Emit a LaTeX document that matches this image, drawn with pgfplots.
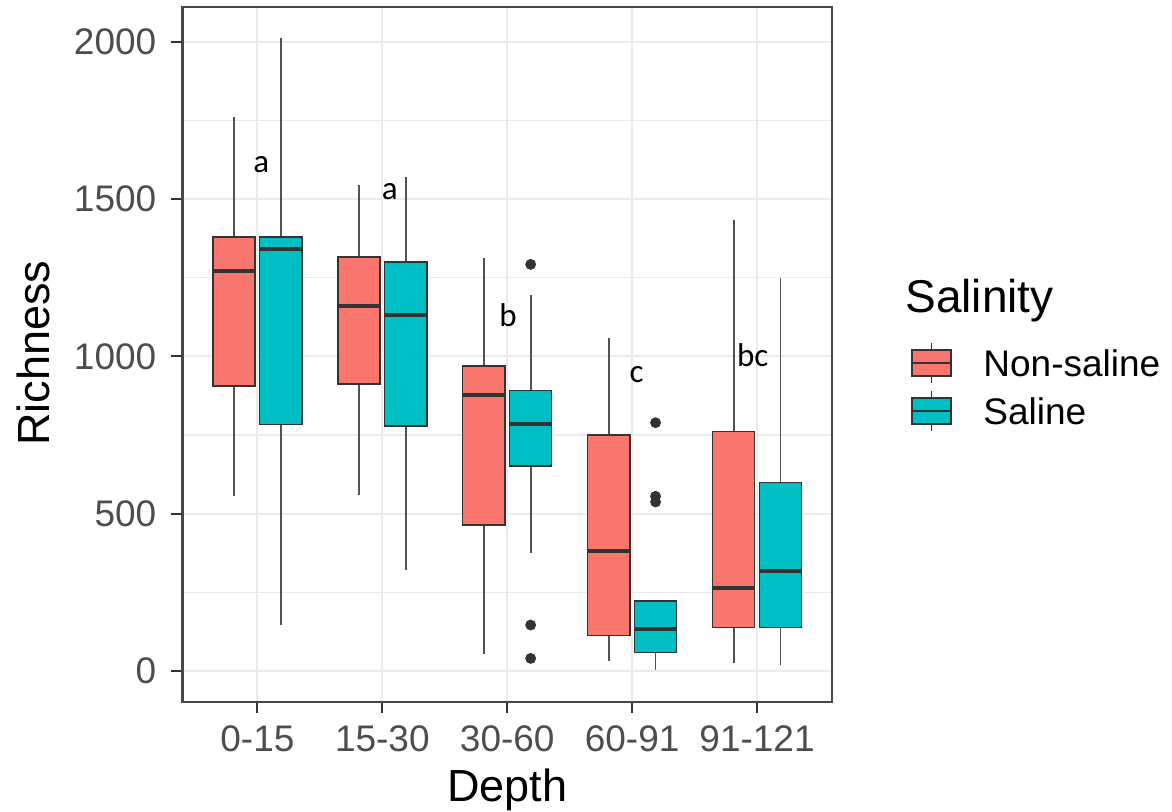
\documentclass[border=0pt]{standalone}
\usepackage{fontspec}
\setmainfont{Liberation Sans}
\newfontfamily\calfont{Carlito}
\usepackage{pgfplots}
\pgfplotsset{compat=1.18}
\definecolor{ns}{HTML}{F8766D}
\definecolor{sa}{HTML}{00BFC4}
\definecolor{g20}{HTML}{333333}
\definecolor{g30}{HTML}{4D4D4D}
\definecolor{g92}{HTML}{EBEBEB}
% #1 left, #2 right, #3 centre, #4 lower whisker, #5 lower quartile, #6 median, #7 upper quartile, #8 upper whisker, #9 fill
\newcommand\bxp[9]{%
  \addplot[g20!85, line width=0.9pt] coordinates {(#3,#4) (#3,#5)};
  \addplot[g20!85, line width=0.9pt] coordinates {(#3,#7) (#3,#8)};
  \addplot[fill=#9, draw=g20, line width=0.7pt] coordinates {(#1,#5) (#2,#5) (#2,#7) (#1,#7)} -- cycle;
  \addplot[g20, line width=2pt] coordinates {(#1,#6) (#2,#6)};
}
\begin{document}
\begin{tikzpicture}
\path[use as bounding box] (0,0) rectangle (586pt,406pt);
\begin{axis}[
  at={(91.25pt,55.15pt)}, anchor=south west,
  scale only axis, width=324.75pt, height=347.2pt,
  xmin=0.4, xmax=5.6, ymin=-97.6, ymax=2109,
  xtick={1,2,3,4,5}, xticklabels={0-15,15-30,30-60,60-91,91-121},
  ytick={0,500,1000,1500,2000}, minor ytick={250,750,1250,1750},
  grid=both,
  major grid style={g92, line width=1pt},
  minor grid style={g92, line width=0.6pt},
  axis line style={g20!90, line width=1.1pt},
  tick align=outside, tick pos=left,
  major tick length=5.5pt, minor tick length=0pt,
  tick style={g20, line width=1pt},
  /pgf/number format/assume math mode=true,
  /pgf/number format/1000 sep={},
  xticklabel style={font=\fontsize{18.5}{18.5}\selectfont, text=g30, inner sep=0pt, anchor=base, yshift=-19.5pt},
  yticklabel style={font=\fontsize{18.5}{18.5}\selectfont, text=g30, inner sep=0pt, anchor=east, xshift=-7.4pt},
  xlabel={Depth}, ylabel={Richness},
  xlabel style={font=\fontsize{22.5}{22.5}\selectfont, inner sep=0pt, at={(axis description cs:0.5,-0.144)}, anchor=base},
  ylabel style={font=\fontsize{22.5}{22.5}\selectfont, inner sep=0pt, at={(axis description cs:-0.2045,0.502)}, anchor=base},
  clip=false,
]
% 0-15
\bxp{0.64375}{0.98125}{0.8125}{555}{906}{1271}{1379}{1761}{ns}
\bxp{1.01875}{1.35625}{1.1875}{146}{783}{1340}{1379}{2011}{sa}
% 15-30
\bxp{1.64375}{1.98125}{1.8125}{559}{912}{1160}{1316}{1545}{ns}
\bxp{2.01875}{2.35625}{2.1875}{321}{779}{1131}{1300}{1569}{sa}
% 30-60
\bxp{2.64375}{2.98125}{2.8125}{53}{464}{876}{969}{1312}{ns}
\bxp{3.01875}{3.35625}{3.1875}{375}{652}{785}{891}{1195}{sa}
% 60-91
\bxp{3.64375}{3.98125}{3.8125}{33}{112}{380}{750}{1059}{ns}
\bxp{4.01875}{4.35625}{4.1875}{4}{59}{133}{223}{223}{sa}
% 91-121
\bxp{4.64375}{4.98125}{4.8125}{24}{138}{263}{761}{1433}{ns}
\bxp{5.01875}{5.35625}{5.1875}{19}{138}{317}{598}{1248}{sa}
% outliers
\addplot[only marks, mark=*, mark size=2.5pt, g20] coordinates {(3.1875,1292) (3.1875,146) (3.1875,40) (4.1875,789) (4.1875,555) (4.1875,537)};
% letters
\node[font=\calfont\fontsize{16.5}{16.5}\selectfont, anchor=base, inner sep=0pt] at (axis cs:1.03,1584) {a};
\node[font=\calfont\fontsize{16.5}{16.5}\selectfont, anchor=base, inner sep=0pt] at (axis cs:2.06,1499) {a};
\node[font=\calfont\fontsize{16.5}{16.5}\selectfont, anchor=base, inner sep=0pt] at (axis cs:3.006,1096) {b};
\node[font=\calfont\fontsize{16.5}{16.5}\selectfont, anchor=base, inner sep=0pt] at (axis cs:4.036,918) {c};
\node[font=\calfont\fontsize{16.5}{16.5}\selectfont, anchor=base, inner sep=0pt] at (axis cs:4.966,967) {bc};
\end{axis}
% legend
\node[anchor=base west, inner sep=0pt, font=\fontsize{23}{23}\selectfont] at (452.5pt,249.5pt) {Salinity};
\draw[g20, line width=0.6pt] (465.75pt,214.5pt) -- (465.75pt,234.5pt);
\filldraw[fill=ns, draw=g20, line width=0.6pt] (456pt,218pt) rectangle (475.5pt,231pt);
\draw[g20, line width=0.8pt] (456pt,224.5pt) -- (475.5pt,224.5pt);
\node[anchor=west, inner sep=0pt, font=\fontsize{18.5}{18.5}\selectfont] at (491.5pt,224.5pt) {Non-saline};
\draw[g20, line width=0.6pt] (465.75pt,190.5pt) -- (465.75pt,210.5pt);
\filldraw[fill=sa, draw=g20, line width=0.6pt] (456pt,194pt) rectangle (475.5pt,207pt);
\draw[g20, line width=0.8pt] (456pt,200.5pt) -- (475.5pt,200.5pt);
\node[anchor=west, inner sep=0pt, font=\fontsize{18.5}{18.5}\selectfont] at (491.5pt,200.5pt) {Saline};
\end{tikzpicture}
\end{document}
